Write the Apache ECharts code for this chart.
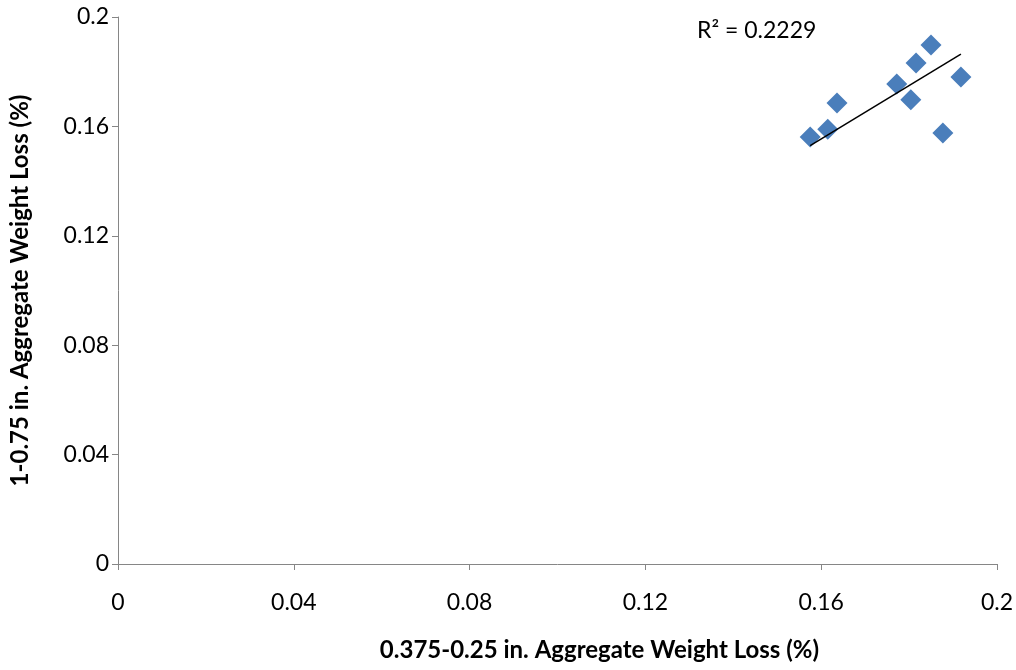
<!DOCTYPE html>
<html><head><meta charset="utf-8">
<script src="https://cdn.jsdelivr.net/npm/echarts@6/dist/echarts.min.js"></script>
<style>html,body{margin:0;padding:0;background:#fff}#c{width:1016px;height:670px}</style>
</head><body><div id="c"></div>
<script>
const xVals = [0.1575, 0.1615, 0.1636, 0.1772, 0.1804, 0.1816, 0.1850, 0.1918, 0.1877];
const yVals = [0.1561, 0.1590, 0.1686, 0.1755, 0.1697, 0.1832, 0.1898, 0.1781, 0.1576];
const trendX = [0.1575, 0.1918];
const trendY = [0.1530, 0.1864];
const axisTicks = [0, 0.04, 0.08, 0.12, 0.16, 0.2];
const r2Label = 'R² = 0.2229';
const xTitle = '0.375-0.25 in. Aggregate Weight Loss (%)';
const yTitle = '1-0.75 in. Aggregate Weight Loss (%)';

const font = 'Lato, "Open Sans", sans-serif';
const chart = echarts.init(document.getElementById('c'));
const axisCommon = {
  type: 'value', min: axisTicks[0], max: axisTicks[axisTicks.length-1], interval: 0.04,
  axisLine: {show: true, onZero: false, lineStyle: {color: '#868686', width: 1}},
  axisTick: {show: true, length: 6, lineStyle: {color: '#868686'}},
  splitLine: {show: false},
  axisLabel: {color: '#000', fontSize: 23, fontFamily: font, formatter: v => String(+v.toFixed(2))},
  nameLocation: 'middle',
  nameTextStyle: {color: '#000', fontSize: 24, fontWeight: 'bold', fontFamily: font}
};
chart.setOption({
  animation: false,
  grid: {left: 118, right: 19, top: 17, bottom: 106},
  xAxis: Object.assign({}, axisCommon, {name: xTitle, nameGap: 74,
    nameTextStyle: Object.assign({}, axisCommon.nameTextStyle, {padding: [0, 0, 0, 84]}),
    axisLabel: Object.assign({}, axisCommon.axisLabel, {margin: 27})}),
  yAxis: Object.assign({}, axisCommon, {name: yTitle, nameGap: 86, axisLabel: Object.assign({}, axisCommon.axisLabel, {margin: 9})}),
  series: [
    {type: 'scatter', data: xVals.map((x, i) => [x, yVals[i]]), symbol: 'diamond', symbolSize: [21, 21],
     itemStyle: {color: '#4A7EBB', opacity: 1}, z: 3},
    {type: 'line', data: trendX.map((x, i) => [x, trendY[i]]), showSymbol: false, symbol: 'none',
     lineStyle: {color: '#000', width: 1.5}, z: 4}
  ],
  graphic: [{type: 'text', left: 697, top: 19, style: {text: r2Label, fontSize: 23, fontFamily: font, fill: '#000'}}]
});
</script></body></html>
